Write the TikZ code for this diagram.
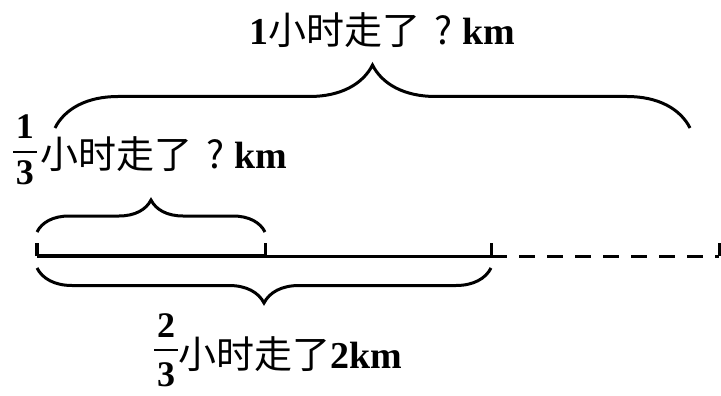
\documentclass[tikz,border=0pt]{standalone}
\usepackage{fontspec}
\setmainfont{Liberation Serif}
\newfontfamily\cjk{Noto Sans CJK SC}
\usepackage{xcolor}
\usetikzlibrary{decorations.pathreplacing}
\tikzstyle{every node}=[inner sep=0pt,font=\fontsize{38}{40}\selectfont\bfseries]
\tikzstyle{digit}=[font=\fontsize{36}{38}\selectfont\bfseries]
\tikzstyle{fracbar}=[line width=2pt]
\tikzset{curly/.style={line width=3pt,decorate,decoration={brace,amplitude=#1}}}
\newcommand\qmark{\hspace{14pt}?\hspace{10pt}}

\begin{document}
\begin{tikzpicture}[x=1pt,y=-1pt]
	\useasboundingbox (0,0) rectangle (721,396);
	\coordinate (a) at (37,256);
	\coordinate (b) at (265,256);
	\coordinate (c) at (491,256);
	\coordinate (d) at (719,256);
	\coordinate (t1) at (55,128);
	\coordinate (t2) at (690,128);
	\draw[line width=4pt] (a) -- (b);
	\draw[line width=3pt] (b) -- (c);
	\draw[line width=3pt,dash pattern=on 16pt off 12pt] (c) -- (d);
	\foreach \p/\w in {a/4,b/3,c/3,d/3}
		\draw[line width=\w pt] (\p) -- ++(0,-13);
	\draw[curly=63pt] (t1) -- (t2);
	\draw[curly=32pt] ([yshift=24pt]a) -- ([yshift=24pt]b);
	\draw[curly=35pt] ([yshift=-12pt]c) -- ([yshift=-12pt]a);
	\node (whole) at (382,30) {1{\cjk\mdseries 小时走了\qmark}km};
	\node[digit] (n1) at (25,127) {1};
	\node[digit] (d1) at (25,173) {3};
	\draw[fracbar] (13,152) -- (37,152);
	\node[anchor=west] (third) at (40,154) {{\cjk\mdseries 小时走了\qmark}km};
	\node[digit] (n2) at (166,326) {2};
	\node[digit] (d2) at (166,375) {3};
	\draw[fracbar] (154,350) -- (178,350);
	\node[anchor=west] (twothirds) at (178,354) {{\cjk\mdseries 小时走了}2km};
\end{tikzpicture}
\end{document}
